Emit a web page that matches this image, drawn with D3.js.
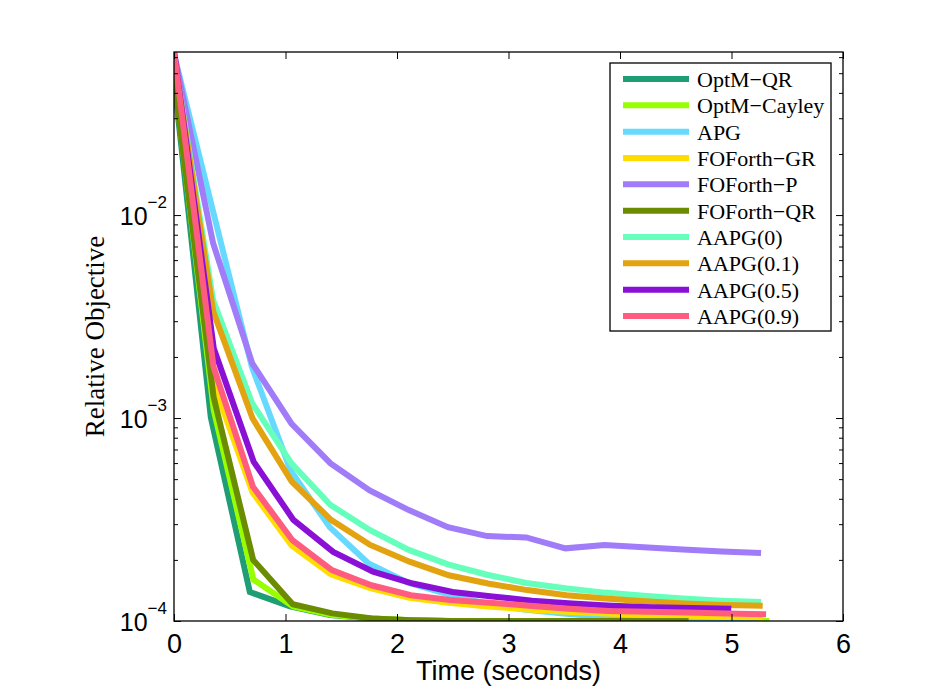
<!DOCTYPE html>
<body style="margin:0;background:#fff">
<svg width="930" height="700"></svg>
<script src="https://d3js.org/d3.v7.min.js"></script>
<script>

// series names and colours
var names = ["OptM\u2212QR", "OptM\u2212Cayley", "APG", "FOForth\u2212GR", "FOForth\u2212P",
             "FOForth\u2212QR", "AAPG(0)", "AAPG(0.1)", "AAPG(0.5)", "AAPG(0.9)"];
var colors = ["#1f9e76", "#99ff00", "#66d9ff", "#ffdd00", "#a07cf8",
              "#6b8c00", "#66ffbb", "#e3a20f", "#8b10d6", "#ff5c80"];

// time (seconds) and relative objective
var optmQRTime = [0, 0.33, 0.68, 1.04, 1.40, 1.75, 2.10, 2.45, 2.80, 3.15, 3.50, 3.85, 4.20, 4.55, 4.90, 5.17];
var optmQRVal  = [0.047, 1.01e-3, 1.39e-4, 1.18e-4, 1.07e-4, 1.03e-4, 1.01e-4, 1.0e-4, 1.0e-4, 1.0e-4, 1.0e-4, 1.0e-4, 1.0e-4, 1.0e-4, 1.0e-4, 1.0e-4];

var cayleyTime = [0, 0.356, 0.712, 1.068, 1.424, 1.78, 2.136, 2.492, 2.848, 3.204, 3.56, 3.916, 4.272, 4.628, 4.984, 5.34];
var cayleyVal  = [0.05, 1.1e-3, 1.6e-4, 1.18e-4, 1.07e-4, 1.03e-4, 1.01e-4, 1.0e-4, 1.0e-4, 1.0e-4, 1.0e-4, 1.0e-4, 1.0e-4, 1.0e-4, 1.0e-4, 1.0e-4];

var apgTime = [0, 0.349, 0.698, 1.047, 1.396, 1.745, 2.094, 2.443, 2.792, 3.141, 3.49, 3.839, 4.188, 4.537, 4.886, 5.235];
var apgVal  = [0.062, 1.05e-2, 1.79e-3, 5.5e-4, 2.9e-4, 1.92e-4, 1.55e-4, 1.36e-4, 1.22e-4, 1.14e-4, 1.09e-4, 1.05e-4, 1.03e-4, 1.02e-4, 1.01e-4, 1.0e-4];

var foGRTime = [0, 0.352, 0.704, 1.056, 1.408, 1.76, 2.112, 2.464, 2.816, 3.168, 3.52, 3.872, 4.224, 4.576, 4.928, 5.28];
var foGRVal  = [0.055, 1.5e-3, 4.3e-4, 2.35e-4, 1.7e-4, 1.45e-4, 1.3e-4, 1.23e-4, 1.18e-4, 1.14e-4, 1.11e-4, 1.09e-4, 1.07e-4, 1.06e-4, 1.05e-4, 1.04e-4];

var foPTime = [0, 0.351, 0.702, 1.053, 1.404, 1.755, 2.106, 2.457, 2.808, 3.159, 3.51, 3.861, 4.212, 4.563, 4.914, 5.265];
var foPVal  = [0.063, 7.26e-3, 1.86e-3, 9.4e-4, 5.98e-4, 4.4e-4, 3.52e-4, 2.9e-4, 2.62e-4, 2.58e-4, 2.28e-4, 2.37e-4, 2.31e-4, 2.25e-4, 2.2e-4, 2.16e-4];

var foQRTime = [0, 0.355, 0.71, 1.065, 1.42, 1.775, 2.13, 2.485, 2.84, 3.195, 3.55, 3.905, 4.26, 4.615];
var foQRVal  = [0.047, 1.27e-3, 2.0e-4, 1.21e-4, 1.09e-4, 1.03e-4, 1.01e-4, 1.0e-4, 1.0e-4, 1.0e-4, 1.0e-4, 1.0e-4, 1.0e-4, 1.0e-4];

var aapg0Time = [0, 0.351, 0.702, 1.053, 1.404, 1.755, 2.106, 2.457, 2.808, 3.159, 3.51, 3.861, 4.212, 4.563, 4.914, 5.265];
var aapg0Val  = [0.06, 3.8e-3, 1.18e-3, 5.98e-4, 3.73e-4, 2.81e-4, 2.24e-4, 1.9e-4, 1.69e-4, 1.54e-4, 1.45e-4, 1.38e-4, 1.33e-4, 1.29e-4, 1.26e-4, 1.24e-4];

var aapg01Time = [0, 0.352, 0.704, 1.056, 1.408, 1.76, 2.112, 2.464, 2.816, 3.168, 3.52, 3.872, 4.224, 4.576, 4.928, 5.28];
var aapg01Val  = [0.06, 3.35e-3, 9.97e-4, 4.86e-4, 3.15e-4, 2.37e-4, 1.96e-4, 1.68e-4, 1.53e-4, 1.42e-4, 1.34e-4, 1.29e-4, 1.25e-4, 1.22e-4, 1.2e-4, 1.19e-4];

var aapg05Time = [0, 0.357, 0.714, 1.071, 1.428, 1.785, 2.142, 2.499, 2.856, 3.213, 3.57, 3.927, 4.284, 4.641, 4.998];
var aapg05Val  = [0.064, 2.2e-3, 6.1e-4, 3.15e-4, 2.19e-4, 1.75e-4, 1.53e-4, 1.39e-4, 1.32e-4, 1.26e-4, 1.22e-4, 1.19e-4, 1.17e-4, 1.16e-4, 1.15e-4];

var aapg09Time = [0, 0.354, 0.708, 1.062, 1.416, 1.77, 2.124, 2.478, 2.832, 3.186, 3.54, 3.894, 4.248, 4.602, 4.956, 5.31];
var aapg09Val  = [0.064, 1.79e-3, 4.59e-4, 2.5e-4, 1.78e-4, 1.5e-4, 1.34e-4, 1.27e-4, 1.23e-4, 1.19e-4, 1.15e-4, 1.12e-4, 1.11e-4, 1.1e-4, 1.09e-4, 1.08e-4];

var xTicks = [0, 1, 2, 3, 4, 5, 6];
var yDecades = [1e-4, 1e-3, 1e-2];
var yExponents = ["\u22124", "\u22123", "\u22122"];

var times = [optmQRTime, cayleyTime, apgTime, foGRTime, foPTime, foQRTime, aapg0Time, aapg01Time, aapg05Time, aapg09Time];
var vals  = [optmQRVal, cayleyVal, apgVal, foGRVal, foPVal, foQRVal, aapg0Val, aapg01Val, aapg05Val, aapg09Val];

var svg = d3.select("svg"),
    pLeft = 174, pRight = 843, pTop = 52, pBottom = 621;

var x = d3.scaleLinear().domain([0, 6]).range([pLeft, pRight]);
var y = d3.scaleLog().domain([1e-4, 0.0636]).range([pBottom, pTop]);

var sans = "'Liberation Sans', Arial, Helvetica, sans-serif",
    serif = "'Liberation Serif', 'Times New Roman', serif";

svg.append("defs").append("clipPath").attr("id", "plot")
  .append("rect").attr("x", pLeft).attr("y", pTop).attr("width", pRight - pLeft).attr("height", pBottom - pTop);

var line = d3.line()
    .x(function(d) { return x(d[0]); })
    .y(function(d) { return y(d[1]); });

var g = svg.append("g").attr("clip-path", "url(#plot)");
names.forEach(function(n, i) {
  var pts = times[i].map(function(t, j) { return [t, vals[i][j]]; });
  g.append("path")
      .datum(pts)
      .attr("fill", "none")
      .attr("stroke", colors[i])
      .attr("stroke-width", 6)
      .attr("stroke-linejoin", "miter")
      .attr("d", line);
});

// frame
svg.append("rect")
    .attr("x", pLeft).attr("y", pTop)
    .attr("width", pRight - pLeft).attr("height", pBottom - pTop)
    .attr("fill", "none").attr("stroke", "#000").attr("stroke-width", 1.3);

// x ticks, inward at bottom and top
svg.append("g")
    .attr("transform", "translate(0," + pBottom + ")")
    .call(d3.axisBottom(x).tickValues(xTicks).tickFormat(d3.format("d"))
      .tickSizeInner(-7).tickSizeOuter(0).tickPadding(13))
    .call(function(a) {
      a.select(".domain").remove();
      a.selectAll("text").attr("font-size", 27).attr("font-family", sans).attr("fill", "#000");
    });
svg.append("g")
    .attr("transform", "translate(0," + pTop + ")")
    .call(d3.axisTop(x).tickValues(xTicks).tickSizeInner(-7).tickSizeOuter(0).tickFormat(""))
    .call(function(a) { a.select(".domain").remove(); });

// y ticks: majors and minors on both sides
var minors = [];
yDecades.forEach(function(d) {
  for (var k = 2; k <= 9; k++) if (d * k <= 0.0636) minors.push(d * k);
});
[[d3.axisLeft, pLeft], [d3.axisRight, pRight]].forEach(function(s) {
  svg.append("g")
      .attr("transform", "translate(" + s[1] + ",0)")
      .call(s[0](y).tickValues(yDecades).tickSizeInner(-7).tickSizeOuter(0).tickFormat(""))
      .call(function(a) { a.select(".domain").remove(); });
  svg.append("g")
      .attr("transform", "translate(" + s[1] + ",0)")
      .call(s[0](y).tickValues(minors).tickSizeInner(-4).tickSizeOuter(0).tickFormat(""))
      .call(function(a) { a.select(".domain").remove(); });
});

// y tick labels 10^n
yDecades.forEach(function(d, i) {
  var t = svg.append("text")
      .attr("x", 167).attr("y", y(d) + 10)
      .attr("text-anchor", "end")
      .attr("font-family", sans);
  t.append("tspan").attr("font-size", 25).text("10");
  t.append("tspan").attr("font-size", 17).attr("dy", -17).text(yExponents[i]);
});

// axis titles
svg.append("text")
    .attr("x", (pLeft + pRight) / 2).attr("y", 680)
    .attr("text-anchor", "middle")
    .attr("font-family", sans).attr("font-size", 27)
    .text("Time (seconds)");

svg.append("text")
    .attr("transform", "translate(104," + (pTop + pBottom) / 2 + ") rotate(-90)")
    .attr("text-anchor", "middle")
    .attr("font-family", serif).attr("font-size", 27)
    .text("Relative Objective");

// legend
var lg = svg.append("g");
lg.append("rect")
    .attr("x", 610).attr("y", 63).attr("width", 221).attr("height", 268)
    .attr("fill", "#fff").attr("stroke", "#000").attr("stroke-width", 1.3);
names.forEach(function(n, i) {
  var yy = 79 + i * 26.33;
  lg.append("line")
      .attr("x1", 623).attr("x2", 689).attr("y1", yy).attr("y2", yy)
      .attr("stroke", colors[i]).attr("stroke-width", 6);
  lg.append("text")
      .attr("x", 697).attr("y", yy + 8)
      .attr("font-family", serif).attr("font-size", 22)
      .text(n);
});
</script>
</body>
